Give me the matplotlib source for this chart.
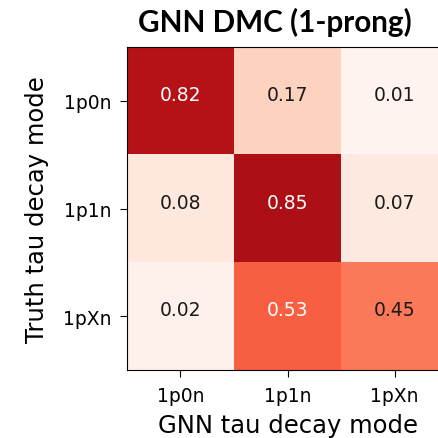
import numpy as np
import matplotlib
matplotlib.use("Agg")
import matplotlib.pyplot as plt

plt.rcParams["font.family"] = ["DejaVu Sans"]

# Normalised confusion matrix (rows: truth, columns: GNN prediction)
modes = ["1p0n", "1p1n", "1pXn"]
row_1p0n = [0.82, 0.17, 0.01]
row_1p1n = [0.08, 0.85, 0.07]
row_1pXn = [0.02, 0.53, 0.45]
matrix = np.array([row_1p0n, row_1p1n, row_1pXn])

W = H = 439
fig = plt.figure(figsize=(W / 100, H / 100), dpi=100)
ax = fig.add_axes([127 / W, 1 - 371 / H, 321 / W, 323 / H])

ax.imshow(matrix, cmap="Reds", vmin=0, vmax=1, aspect="auto")

for i in range(matrix.shape[0]):
    for j in range(matrix.shape[1]):
        v = matrix[i, j]
        ax.text(j, i - 0.06, f"{v:.2f}", ha="center", va="center",
                fontsize=13.5, color="white" if v > 0.5 else "#1a1a1a")

ax.set_xticks(range(len(modes)))
ax.set_yticks(range(len(modes)))
ax.set_xticklabels(modes, fontsize=13.5)
ax.set_yticklabels(modes, fontsize=13.5)
ax.tick_params(length=5, pad=6.5)
ax.set_xlabel("GNN tau decay mode", fontsize=17.5, labelpad=6)
ax.set_ylabel("Truth tau decay mode", fontsize=17.5, labelpad=9.5)

fig.text(274.5 / W, 1 - 32 / H, "GNN DMC (1-prong)", ha="center",
         va="baseline", fontsize=21.3, fontweight="bold", family="Lato")

fig.savefig("out.png", dpi=100)
